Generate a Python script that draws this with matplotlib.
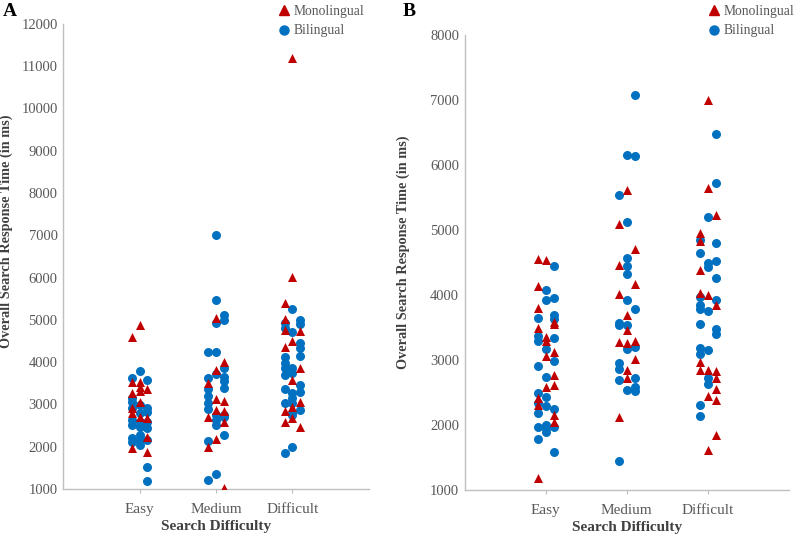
import matplotlib
matplotlib.use("Agg")
import matplotlib.pyplot as plt
from matplotlib.lines import Line2D

plt.rcParams['font.family'] = ['Liberation Serif', 'DejaVu Serif']

categories = ["Easy", "Medium", "Difficult"]

# values per category, split into the three jitter columns (left, centre, right)
a_mono = {
    "Easy": ([4600, 3540, 3270, 2910, 2800, 1960],
             [4880, 3540, 3420, 3320, 3065, 2700],
             [3360, 2680, 2240, 1880]),
    "Medium": ([3500, 2710, 2000],
               [5040, 3815, 3120, 2870, 2175],
               [4010, 3080, 2850, 2590, 1030]),
    "Difficult": ([5390, 5015, 4760, 4350, 2845, 2590],
                  [11200, 6010, 4500, 3580, 2950, 2670],
                  [4740, 3855, 3065, 2475]),
}
a_bili = {
    "Easy": ([3620, 3145, 3065, 2910, 2630, 2515, 2200, 2120],
             [3780, 2990, 2790, 2590, 2475, 2280, 2160, 2040],
             [3580, 2910, 2830, 2590, 2435, 2160, 1530, 1200]),
    "Medium": ([4250, 3620, 3360, 3200, 3030, 2890, 2140, 1210],
               [7010, 5460, 4920, 4250, 3720, 2750, 2630, 2515, 1355],
               [5120, 5000, 3855, 3660, 3565, 3380, 2750, 2710, 2280]),
    "Difficult": ([4920, 4800, 4130, 3975, 3855, 3700, 3365, 3030, 1845],
                  [5260, 4720, 3855, 3740, 3265, 3145, 3030, 2790, 2750, 1985],
                  [5000, 4905, 4450, 4330, 4150, 3460, 3300, 2870]),
}
b_mono = {
    "Easy": ([4550, 4140, 3795, 3490, 2410, 2305, 1180],
             [4540, 3360, 3300, 3060, 2590],
             [3590, 3555, 3125, 2770, 2625, 2155, 2050]),
    "Medium": ([5100, 4460, 4025, 3280, 2130],
               [5625, 3690, 3460, 3265, 2845, 2730],
               [4715, 4170, 3295, 3025]),
    "Difficult": ([4950, 4830, 4385, 4035, 2975, 2855],
                  [7000, 5650, 4000, 2855, 2445, 1625],
                  [5230, 3850, 2830, 2730, 2560, 2380, 1850]),
}
b_bili = {
    "Easy": ([3650, 3370, 3300, 2905, 2490, 2345, 2180, 1975, 1780],
             [4075, 3920, 3165, 2745, 2435, 2290, 2000, 1950, 1895],
             [4445, 3950, 3690, 3640, 3345, 2990, 2255, 1975, 1590]),
    "Medium": ([5545, 3570, 3540, 2950, 2860, 2690, 1450],
               [6150, 5125, 4565, 4445, 4320, 3920, 3540, 3165, 2540],
               [7085, 6140, 3780, 3205, 2720, 2590, 2530]),
    "Difficult": ([4850, 4650, 3975, 3845, 3780, 3550, 3180, 3090, 2305, 2140],
                  [5200, 4500, 4440, 3760, 3155, 2720, 2640],
                  [6480, 5720, 4800, 4530, 4260, 3920, 3480, 3400]),
}

RED = "#C00000"
BLUE = "#0070C0"
GRAY = "#595959"
SPINE = "#BFBFBF"
JIT = 0.1


def draw_group(ax, data, color, marker):
    for i, cat in enumerate(categories):
        for k, col in enumerate(data[cat]):
            xs = [i + 1 + (k - 1) * JIT] * len(col)
            ax.scatter(xs, col, s=42, c=color, marker=marker,
                       linewidths=0, zorder=3)


def style_axis(ax, ymax, label_x, label_y):
    ax.set_xlim(0, 4)
    ax.set_ylim(1000, ymax)
    ax.set_yticks(range(1000, ymax + 1, 1000))
    ax.set_xticks([1, 2, 3])
    ax.set_xticklabels(categories)
    for s in ["top", "right"]:
        ax.spines[s].set_visible(False)
    for s in ["left", "bottom"]:
        ax.spines[s].set_color(SPINE)
        ax.spines[s].set_linewidth(1.0)
    ax.tick_params(axis="y", length=0, labelsize=10.5, labelcolor=GRAY, pad=4)
    ax.tick_params(axis="x", length=3, color=SPINE, labelsize=11,
                   labelcolor=GRAY, pad=7)
    ax.set_xlabel("Search Difficulty", fontsize=11, fontweight="bold",
                  color="#404040", labelpad=3)
    ax.set_ylabel("Overall Search Response Time (in ms)", fontsize=10.3,
                  fontweight="bold", color="#404040")
    ax.yaxis.set_label_coords(label_x, label_y)


fig = plt.figure(figsize=(8, 5.41), dpi=100)
ax_a = fig.add_axes([0.079, 0.096, 0.382, 0.86])
ax_b = fig.add_axes([0.581, 0.094, 0.405, 0.841])

for ax, mono, bili, ymax, lx, ly in [(ax_a, a_mono, a_bili, 12000, -0.163, 0.555),
                                     (ax_b, b_mono, b_bili, 8000, -0.17, 0.523)]:
    draw_group(ax, bili, BLUE, "o")
    draw_group(ax, mono, RED, "^")
    style_axis(ax, ymax, lx, ly)

handles = [Line2D([], [], ls="", marker="^", color=RED, markersize=6.5),
           Line2D([], [], ls="", marker="o", color=BLUE, markersize=6.5)]
for x0 in [0.349, 0.887]:
    leg = fig.legend(handles, ["Monolingual", "Bilingual"], loc="upper left",
                     bbox_to_anchor=(x0, 0.993), frameon=False, fontsize=9.8,
                     handlelength=0.5, handletextpad=0.45, labelspacing=0.45,
                     borderaxespad=0, borderpad=0.1)
    for t in leg.get_texts():
        t.set_color(GRAY)

fig.text(0.004, 0.995, "A", fontsize=14, fontweight="bold", va="top")
fig.text(0.503, 0.995, "B", fontsize=14, fontweight="bold", va="top")

fig.savefig("out.png", dpi=100)
